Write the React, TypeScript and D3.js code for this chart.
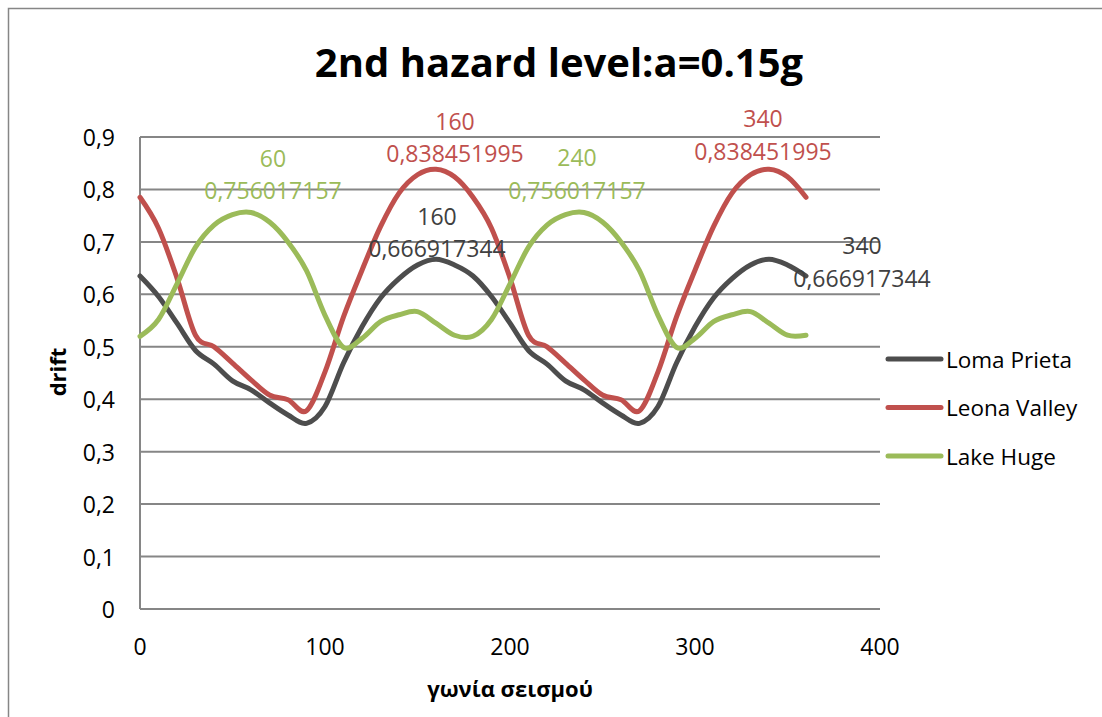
import * as d3 from "d3";
import React, { useEffect, useRef } from "react";

// angle of the earthquake (deg), one value every 10 degrees
const angles = [
  0, 10, 20, 30, 40, 50, 60, 70, 80, 90, 100, 110, 120, 130, 140, 150, 160, 170,
  180, 190, 200, 210, 220, 230, 240, 250, 260, 270, 280, 290, 300, 310, 320, 330,
  340, 350, 360,
];

const lomaPrieta = [
  0.635, 0.596, 0.545, 0.493, 0.467, 0.435, 0.418, 0.393, 0.37, 0.354, 0.386,
  0.469, 0.538, 0.593, 0.63, 0.656, 0.666917344, 0.656,
  0.635, 0.596, 0.545, 0.493, 0.467, 0.435, 0.418, 0.393, 0.37, 0.354, 0.386,
  0.469, 0.538, 0.593, 0.63, 0.656, 0.666917344, 0.656, 0.635,
];

const leonaValley = [
  0.785, 0.726, 0.631, 0.522, 0.5, 0.469, 0.437, 0.408, 0.399, 0.378, 0.452,
  0.557, 0.646, 0.729, 0.793, 0.828, 0.838451995, 0.824,
  0.785, 0.726, 0.631, 0.522, 0.5, 0.469, 0.437, 0.408, 0.399, 0.378, 0.452,
  0.557, 0.646, 0.729, 0.793, 0.828, 0.838451995, 0.824, 0.785,
];

const lakeHuge = [
  0.52, 0.552, 0.62, 0.69, 0.732, 0.752, 0.756017157, 0.738, 0.7, 0.645,
  0.56, 0.499, 0.516, 0.548, 0.561, 0.567, 0.545, 0.522,
  0.52, 0.552, 0.62, 0.69, 0.732, 0.752, 0.756017157, 0.738, 0.7, 0.645,
  0.56, 0.499, 0.516, 0.548, 0.561, 0.567, 0.545, 0.522, 0.522,
];

const seriesNames = ["Loma Prieta", "Leona Valley", "Lake Huge"];
const seriesValues = [lomaPrieta, leonaValley, lakeHuge];

const xTicks = [0, 100, 200, 300, 400];
const yTicks = [0, 0.1, 0.2, 0.3, 0.4, 0.5, 0.6, 0.7, 0.8, 0.9];

// data labels: which series, at which angle
const labelSeries = [2, 1, 0, 2, 1, 0];
const labelAngles = [60, 160, 160, 240, 340, 340];

const COLORS = ["#4d4d4d", "#c0504d", "#9bbb59"];
const LABEL_COLORS = ["#404040", "#c0504d", "#9bbb59"];
// manual offsets of the labels from their point (px): [dx, dy of angle line, dy of value line]
const LABEL_OFFSETS = [
  [22, -55, -23],
  [19, -48, -16],
  [1, -43, -11],
  [-7, -56, -23],
  [-6, -51, -18],
  [93, -14, 19],
];

const CONFIG = {
  width: 1102,
  height: 717,
  left: 140,
  right: 880,
  top: 137,
  bottom: 609,
  font: "'Open Sans', 'Liberation Sans', sans-serif",
  grid: "#868686",
};

const locale = d3.formatLocale({
  decimal: ",",
  thousands: ".",
  grouping: [3],
  currency: ["", "€"],
});
const fmtTick = locale.format(".1~f");
const fmtValue = (v: number) => String(v).replace(".", ",");

const App: React.FC = () => {
  const svgRef = useRef<SVGSVGElement>(null);

  useEffect(() => {
    const svg = d3.select(svgRef.current);
    svg.selectAll("*").remove();

    const x = d3.scaleLinear().domain([0, 400]).range([CONFIG.left, CONFIG.right]);
    const y = d3.scaleLinear().domain([0, 0.9]).range([CONFIG.bottom, CONFIG.top]);

    svg
      .append("rect")
      .attr("width", CONFIG.width)
      .attr("height", CONFIG.height)
      .attr("fill", "white");

    // chart frame
    svg
      .append("rect")
      .attr("x", 8.5)
      .attr("y", 8.5)
      .attr("width", CONFIG.width + 20)
      .attr("height", CONFIG.height + 20)
      .attr("fill", "none")
      .attr("stroke", CONFIG.grid)
      .attr("stroke-width", 1.5);

    svg
      .append("text")
      .attr("x", 559)
      .attr("y", 77)
      .attr("text-anchor", "middle")
      .attr("font-family", CONFIG.font)
      .attr("font-weight", "bold")
      .attr("font-size", 40)
      .text("2nd hazard level:a=0.15g");

    // gridlines
    svg
      .append("g")
      .selectAll("line")
      .data(yTicks)
      .enter()
      .append("line")
      .attr("x1", CONFIG.left)
      .attr("x2", CONFIG.right)
      .attr("y1", (d: number) => y(d))
      .attr("y2", (d: number) => y(d))
      .attr("stroke", CONFIG.grid)
      .attr("stroke-width", 2);

    svg
      .append("line")
      .attr("x1", CONFIG.left)
      .attr("x2", CONFIG.left)
      .attr("y1", CONFIG.top)
      .attr("y2", CONFIG.bottom)
      .attr("stroke", CONFIG.grid)
      .attr("stroke-width", 2);

    // tick labels
    svg
      .append("g")
      .selectAll("text")
      .data(yTicks)
      .enter()
      .append("text")
      .attr("x", 115)
      .attr("y", (d: number) => y(d))
      .attr("text-anchor", "end")
      .attr("dominant-baseline", "central")
      .attr("font-family", CONFIG.font)
      .attr("font-size", 23)
      .attr("fill", "#000")
      .text((d: number) => fmtTick(d));

    svg
      .append("g")
      .selectAll("text")
      .data(xTicks)
      .enter()
      .append("text")
      .attr("x", (d: number) => x(d))
      .attr("y", 646)
      .attr("text-anchor", "middle")
      .attr("dominant-baseline", "central")
      .attr("font-family", CONFIG.font)
      .attr("font-size", 23)
      .attr("fill", "#000")
      .text((d: number) => String(d));

    // axis titles
    svg
      .append("text")
      .attr("transform", "translate(57,372) rotate(-90)")
      .attr("text-anchor", "middle")
      .attr("dominant-baseline", "central")
      .attr("font-family", CONFIG.font)
      .attr("font-weight", "bold")
      .attr("font-size", 22)
      .text("drift");

    svg
      .append("text")
      .attr("x", (CONFIG.left + CONFIG.right) / 2)
      .attr("y", 688)
      .attr("text-anchor", "middle")
      .attr("dominant-baseline", "central")
      .attr("font-family", CONFIG.font)
      .attr("font-weight", "bold")
      .attr("font-size", 22)
      .text("γωνία σεισμού");

    // series
    const line = d3
      .line<number>()
      .x((_: number, i: number) => x(angles[i]))
      .y((d: number) => y(d))
      .curve(d3.curveCatmullRom.alpha(0));

    seriesValues.forEach((values, s) => {
      svg
        .append("path")
        .attr("d", line(values))
        .attr("fill", "none")
        .attr("stroke", COLORS[s])
        .attr("stroke-width", 5)
        .attr("stroke-linecap", "round")
        .attr("stroke-linejoin", "round");
    });

    // data labels
    labelSeries.forEach((s, k) => {
      const angle = labelAngles[k];
      const value = seriesValues[s][angles.indexOf(angle)];
      const [dx, dy1, dy2] = LABEL_OFFSETS[k];
      const px = x(angle) + dx;
      const py = y(value);
      const g = svg
        .append("g")
        .attr("font-family", CONFIG.font)
        .attr("font-size", 23)
        .attr("fill", LABEL_COLORS[s])
        .attr("text-anchor", "middle")
        .attr("dominant-baseline", "central");
      g.append("text").attr("x", px).attr("y", py + dy1).text(String(angle));
      g.append("text").attr("x", px).attr("y", py + dy2).text(fmtValue(value));
    });

    // legend
    const legend = svg.append("g");
    seriesNames.forEach((name, s) => {
      const ly = 359 + s * 48.5;
      legend
        .append("line")
        .attr("x1", 888)
        .attr("x2", 941)
        .attr("y1", ly)
        .attr("y2", ly)
        .attr("stroke", COLORS[s])
        .attr("stroke-width", 5)
        .attr("stroke-linecap", "round");
      legend
        .append("text")
        .attr("x", 946)
        .attr("y", ly)
        .attr("dominant-baseline", "central")
        .attr("font-family", CONFIG.font)
        .attr("font-size", 22.5)
        .attr("fill", "#000")
        .text(name);
    });
  }, []);

  return (
    <svg
      ref={svgRef}
      width={CONFIG.width}
      height={CONFIG.height}
      style={{ position: "absolute", left: 0, top: 0 }}
    />
  );
};

export default App;
